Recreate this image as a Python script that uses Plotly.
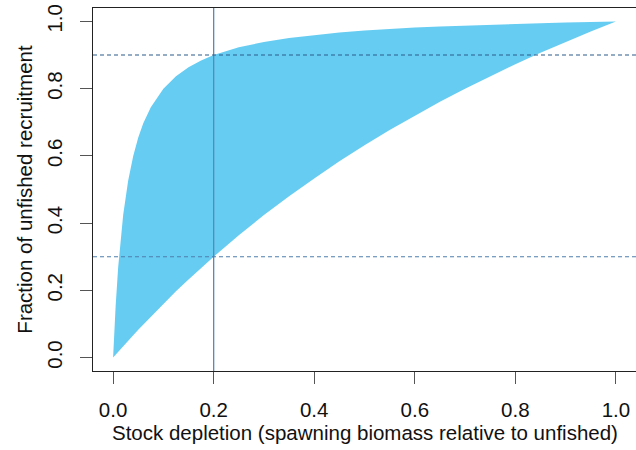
import plotly.graph_objects as go

# Stock depletion values (x) and fraction of unfished recruitment
depletion = [0.0, 0.0025, 0.005, 0.01, 0.015, 0.02, 0.03, 0.04, 0.05, 0.06, 0.075, 0.1,
             0.125, 0.15, 0.175, 0.2, 0.25, 0.3, 0.35, 0.4, 0.45, 0.5, 0.55, 0.6, 0.65,
             0.7, 0.75, 0.8, 0.85, 0.9, 0.95, 1.0]
upper_recruit = [0.0, 0.083, 0.153, 0.267, 0.354, 0.424, 0.527, 0.6, 0.655, 0.697, 0.745,
                 0.8, 0.837, 0.864, 0.884, 0.9, 0.923, 0.939, 0.951, 0.96, 0.967, 0.973,
                 0.978, 0.982, 0.985, 0.988, 0.991, 0.993, 0.995, 0.997, 0.998, 1.0]
lower_recruit = [0.0, 0.0043, 0.0085, 0.017, 0.0254, 0.034, 0.05, 0.0667, 0.083, 0.0986,
                 0.122, 0.16, 0.197, 0.232, 0.267, 0.3, 0.364, 0.424, 0.48, 0.533, 0.584,
                 0.632, 0.677, 0.72, 0.761, 0.8, 0.837, 0.873, 0.907, 0.939, 0.97, 1.0]

ref_depletion = 0.2
ref_upper = 0.9
ref_lower = 0.3

tick_vals = [0.0, 0.2, 0.4, 0.6, 0.8, 1.0]
tick_text = ["0.0", "0.2", "0.4", "0.6", "0.8", "1.0"]

x_title = "Stock depletion (spawning biomass relative to unfished)"
y_title = "Fraction of unfished recruitment"

poly_x = depletion + depletion[::-1]
poly_y = upper_recruit + lower_recruit[::-1]

fig = go.Figure()
fig.add_trace(go.Scatter(x=poly_x, y=poly_y, fill="toself", mode="lines",
                         line=dict(width=0, color="#66CCF2"), fillcolor="#66CCF2",
                         hoverinfo="skip", showlegend=False))

fig.add_shape(type="line", xref="x", yref="paper", x0=ref_depletion, x1=ref_depletion,
              y0=0, y1=1, line=dict(color="#5A87B8", width=1.3))
fig.add_shape(type="line", xref="paper", yref="y", x0=0, x1=1, y0=ref_upper, y1=ref_upper,
              line=dict(color="#2B5C8C", width=1.1, dash="4px,3px"))
fig.add_shape(type="line", xref="paper", yref="y", x0=0, x1=1, y0=ref_lower, y1=ref_lower,
              line=dict(color="#4F7EAE", width=1.1, dash="4px,3px"))

font = dict(family="Liberation Sans, Arial, sans-serif", size=20.5, color="#111111")

fig.add_annotation(text=x_title, xref="paper", yref="paper", x=0.5, y=0,
                   xanchor="center", yanchor="top", yshift=-48, showarrow=False, font=font)

fig.update_layout(
    width=636, height=450,
    margin=dict(l=93, r=0, t=8, b=79, autoexpand=False),
    plot_bgcolor="white", paper_bgcolor="white",
    font=font,
    xaxis=dict(range=[-0.04, 1.04], tickvals=tick_vals, ticktext=tick_text,
               ticks="outside", ticklen=12, tickcolor="#555555", tickwidth=1.3,
               showgrid=False, zeroline=False, showline=True, linecolor="#222222",
               linewidth=1.3, mirror=True, ticklabelstandoff=8, automargin=False),
    yaxis=dict(range=[-0.04, 1.04], tickvals=tick_vals, ticktext=tick_text,
               ticks="outside", ticklen=12, tickcolor="#555555", tickwidth=1.3,
               tickangle=-90, showgrid=False, zeroline=False, showline=True,
               linecolor="#222222", linewidth=1.3, ticklabelstandoff=10, automargin=False,
               title=dict(text=y_title, font=font, standoff=4)),
)

fig.write_html("out.html", post_script="document.body.style.margin='0';",
               config={"displayModeBar": False})
